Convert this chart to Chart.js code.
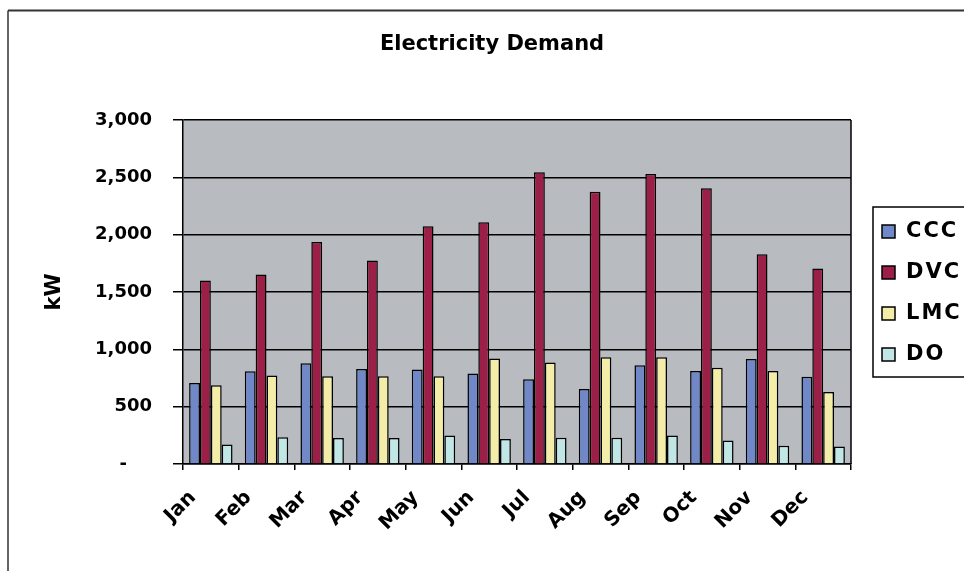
<!DOCTYPE html>
<html lang="en">
<head>
    <meta charset="UTF-8">
    <title>Electricity Demand</title>
    <script src="https://cdn.jsdelivr.net/npm/chart.js"></script>
    <style>
        html, body { margin: 0; padding: 0; background: #ffffff; }
        .chart-container { position: relative; width: 964px; height: 571px; }
    </style>
</head>
<body>
    <div class="chart-container">
        <canvas id="demandChart"></canvas>
    </div>
    <script>
        // Monthly demand (kW) per customer group
        const months = ['Jan', 'Feb', 'Mar', 'Apr', 'May', 'Jun', 'Jul', 'Aug', 'Sep', 'Oct', 'Nov', 'Dec'];
        const cccDemand = [707, 809, 879, 829, 824, 789, 740, 654, 862, 810, 915, 760];
        const dvcDemand = [1600, 1653, 1937, 1775, 2074, 2109, 2545, 2375, 2530, 2405, 1830, 1705];
        const lmcDemand = [687, 771, 765, 765, 765, 920, 886, 930, 930, 839, 810, 628];
        const doDemand = [169, 233, 227, 227, 248, 218, 228, 228, 248, 204, 160, 152];
        const yTicks = [0, 500, 1000, 1500, 2000, 2500, 3000];
        const chartTitle = 'Electricity Demand';

        const labelFont = "'DejaVu Sans', Verdana, sans-serif";

        // outer frame + grey plot background
        const plotFrame = {
            id: 'plotFrame',
            beforeDraw(chart) {
                const { ctx, chartArea: a } = chart;
                ctx.save();
                ctx.fillStyle = '#b8bcc1';
                ctx.fillRect(a.left, a.top, a.right - a.left, a.bottom - a.top);
                ctx.strokeStyle = '#333';
                ctx.lineWidth = 1.5;
                ctx.beginPath();
                ctx.moveTo(8, 575);
                ctx.lineTo(8, 10.5);
                ctx.stroke();
                ctx.lineWidth = 2;
                ctx.beginPath();
                ctx.moveTo(8, 10.5);
                ctx.lineTo(970, 10.5);
                ctx.stroke();
                ctx.restore();
            },
            afterDraw(chart) {
                const { ctx, chartArea: a } = chart;
                ctx.save();
                ctx.strokeStyle = '#000';
                ctx.lineWidth = 1.5;
                ctx.beginPath();
                ctx.moveTo(a.right, a.top);
                ctx.lineTo(a.right, a.bottom);
                ctx.stroke();
                // title sits over the whole frame, legend included
                ctx.font = 'bold 21px ' + labelFont;
                ctx.fillStyle = '#000';
                ctx.textAlign = 'center';
                ctx.textBaseline = 'middle';
                ctx.fillText(chartTitle, 492, 45);
                ctx.restore();
            }
        };

        // boxed legend at the right edge
        const boxLegend = {
            id: 'boxLegend',
            afterDraw(chart) {
                const ctx = chart.ctx;
                ctx.save();
                ctx.strokeStyle = '#000';
                ctx.lineWidth = 1.5;
                ctx.strokeRect(873, 207, 100, 170);
                ctx.font = 'bold 21px ' + labelFont;
                ctx.letterSpacing = '2px';
                ctx.textBaseline = 'middle';
                ctx.textAlign = 'left';
                chart.data.datasets.forEach((ds, i) => {
                    const y = 231 + i * 41;
                    ctx.fillStyle = ds.backgroundColor;
                    ctx.fillRect(882, y - 6, 13, 13);
                    ctx.strokeRect(882, y - 6, 13, 13);
                    ctx.fillStyle = '#000';
                    ctx.fillText(ds.label, 906, y + 1);
                });
                ctx.restore();
            }
        };

        function series(label, values, color) {
            return {
                label: label,
                data: values,
                backgroundColor: color,
                borderColor: '#000',
                borderWidth: 1.5,
                barPercentage: 1,
                categoryPercentage: 0.78
            };
        }

        new Chart(document.getElementById('demandChart'), {
            type: 'bar',
            data: {
                labels: months,
                datasets: [
                    series('CCC', cccDemand, '#7088c8'),
                    series('DVC', dvcDemand, '#9c1f48'),
                    series('LMC', lmcDemand, '#f4eda8'),
                    series('DO', doDemand, '#c0e6e6')
                ]
            },
            options: {
                responsive: true,
                maintainAspectRatio: false,
                animation: false,
                layout: { padding: { left: 0, right: 113, top: 120, bottom: 0 } },
                plugins: {
                    legend: { display: false },
                    tooltip: { enabled: false },
                    title: { display: false }
                },
                scales: {
                    x: {
                        grid: { offset: true, drawOnChartArea: false, color: '#000', tickLength: 6, lineWidth: 1.5 },
                        border: { color: '#000', width: 1.5 },
                        ticks: {
                            color: '#000',
                            font: { family: labelFont, size: 20, weight: 'bold' },
                            minRotation: 45,
                            maxRotation: 45,
                            autoSkip: false,
                            labelOffset: -18,
                            padding: 16
                        },
                        afterFit(scale) { scale.height = 107; }
                    },
                    y: {
                        min: 0,
                        max: 3000,
                        afterBuildTicks(scale) { scale.ticks = yTicks.map(v => ({ value: v })); },
                        grid: { color: '#000', lineWidth: 1.5, tickLength: 10 },
                        border: { color: '#000', width: 1.5 },
                        ticks: {
                            color: '#000',
                            font: { family: labelFont, size: 18, weight: 'bold' },
                            padding: 21,
                            callback: v => v === 0 ? '-    ' : v.toLocaleString('en-US')
                        },
                        title: {
                            display: true,
                            text: 'kW',
                            color: '#000',
                            font: { family: labelFont, size: 21, weight: 'bold', lineHeight: 1.2 },
                            padding: { top: 42, bottom: 0 }
                        },
                        afterFit(scale) { scale.width = 183; }
                    }
                }
            },
            plugins: [plotFrame, boxLegend]
        });
    </script>
</body>
</html>
